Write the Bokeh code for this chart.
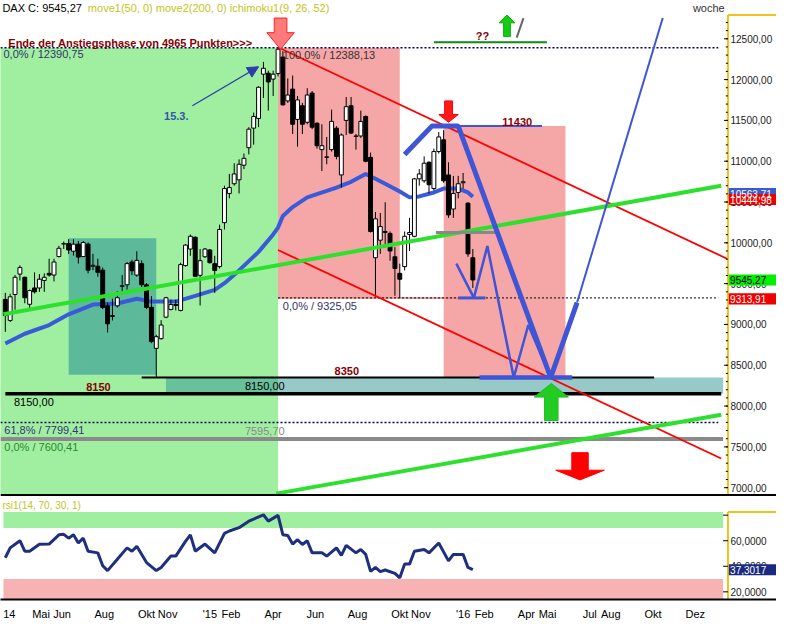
import numpy as np
from bokeh.plotting import figure
from bokeh.layouts import column
from bokeh.models import Range1d, FixedTicker, Label, Span, Arrow, NormalHead
from bokeh.core.properties import value
from bokeh.embed import file_html
from bokeh.resources import INLINE

# ---------------- data ----------------
first_week = -42   # first weekly candle, in weeks relative to the first week of 2015

opens = [9307, 9049, 9367, 9617, 9578, 9247, 9447, 9447, 9539, 9626, 9605, 9832, 9984, 9992, 9897, 9984,
         9832, 9984, 9713, 9713, 9665, 9228, 9097, 9228, 9467, 9486, 9765, 9605, 9745, 9486, 9210, 8707,
         8826, 9089, 9184, 9244, 9172, 9721, 9924, 10068, 9602, 9829, 9912, 9745, 9709, 10247, 10605, 10724,
         10772, 10951, 11166, 11405, 11524, 12066, 12078, 12006, 12074, 12276, 11739, 11883, 11512, 11680,
         11477, 11835, 11465, 11142, 11047, 11142, 11405, 10832, 11500, 11680, 11303, 11309, 11548, 11047,
         9817, 10032, 10127, 10115, 9829, 9626, 9709, 10103, 10080, 10784, 10760, 10987, 10665, 11118,
         11262, 10832, 10414, 10617, 10736, 10486, 9817]
highs = [9387, 9375, 9605, 9725, 9586, 9427, 9638, 9617, 9626, 9805, 9805, 9964, 10016, 10044, 10044, 10023,
         10023, 10004, 9865, 9805, 9697, 9268, 9315, 9407, 9605, 9765, 9793, 9897, 9785, 9506, 9348, 8874,
         9053, 9339, 9303, 9303, 9757, 9984, 10103, 10080, 9924, 9936, 9924, 9841, 10223, 10700, 10844, 10975,
         11023, 11094, 11417, 11596, 11918, 12217, 12109, 12109, 12390, 12348, 12014, 12050, 11799, 11715,
         11894, 11859, 11477, 11453, 11297, 11632, 11429, 11340, 11787, 11787, 11333, 11620, 11560, 11106,
         10378, 10366, 10497, 10139, 9948, 9745, 10139, 10306, 10796, 10903, 11059, 10999, 11154, 11357,
         11381, 10987, 10820, 10820, 10856, 10497, 9924]
lows = [8909, 9030, 9180, 9539, 9259, 9168, 9379, 9399, 9399, 9586, 9527, 9820, 9924, 9865, 9844, 9745,
        9825, 9626, 9665, 9586, 9188, 8901, 9049, 9208, 9367, 9427, 9605, 9586, 9459, 9188, 8770, 8352,
        8814, 9077, 9172, 9172, 9160, 9709, 9841, 9580, 9232, 9817, 9745, 9387, 9685, 10163, 10545, 10700,
        10605, 10903, 11083, 11202, 11417, 11775, 11620, 11799, 12038, 11680, 11715, 11333, 11178, 11333,
        11453, 11393, 11154, 10880, 10963, 11118, 11023, 10677, 11321, 11333, 11142, 11285, 10987, 10127,
        9338, 9865, 9948, 9781, 9351, 9325, 9662, 9900, 10068, 10700, 10736, 10605, 10641, 11094,
        10736, 10306, 10306, 10545, 10665, 9829, 9447]
closes = [9109, 9339, 9578, 9697, 9327, 9415, 9399, 9554, 9578, 9605, 9765, 9933, 9992, 9912, 9984, 9825,
          10004, 9665, 9725, 9638, 9208, 9008, 9109, 9327, 9474, 9745, 9658, 9785, 9486, 9208, 8790, 8850,
          8993, 9327, 9244, 9232, 9733, 9972, 10080, 9590, 9781, 9924, 9757, 9662, 10163, 10665, 10677, 10844,
          10963, 11035, 11393, 11548, 11906, 12138, 11971, 12066, 12372, 11691, 11811, 11453, 11751, 11453,
          11811, 11417, 11190, 11190, 11053, 11488, 11059, 11321, 11668, 11345, 11309, 11488, 10999, 10139,
          10294, 10199, 10139, 9900, 9685, 9554, 10080, 10127, 10784, 10844, 10975, 10712, 11118, 11297,
          10760, 10342, 10605, 10724, 10748, 9865, 9545]

ma_weeks = [-42, -38, -33, -29, -24, -19, -15, -12, -7, -3, 1, 3, 6, 10, 13, 14, 15, 17, 20, 26, 29, 32,
            34, 36, 39, 41, 43, 46, 48, 51, 53, 54]
ma_values = [8766, 8886, 8993, 9124, 9244, 9256, 9315, 9280, 9280, 9351, 9423, 9506, 9662, 9889, 10103,
             10187, 10330, 10438, 10557, 10677, 10748, 10844, 10784, 10724, 10629, 10557, 10569, 10617,
             10665, 10665, 10617, 10564]

rsi_weeks = [-42, -41, -39, -38, -37, -35, -33, -31, -30, -29, -28, -27, -26, -25, -23, -22, -21, -19, -17,
             -16, -15, -13, -11, -10, -8, -7, -5, -4, -3, -1, 1, 3, 4, 6, 8, 11, 12, 14, 15, 16, 17, 18,
             19, 20, 21, 23, 24, 26, 27, 28, 30, 31, 32, 33, 34, 35, 36, 38, 39, 40, 41, 42, 44, 45, 47,
             49, 50, 52, 53, 54]
rsi_values = [46.7, 54.4, 60.0, 51.8, 51.8, 57.2, 57.4, 64.6, 65.0, 62.0, 64.6, 58.2, 62.0, 51.8, 50.5,
              40.4, 36.6, 45.5, 54.4, 51.8, 55.6, 42.9, 36.6, 39.1, 48.0, 48.0, 59.5, 64.6, 51.8, 57.4,
              50.5, 65.8, 67.6, 70.2, 75.3, 80.3, 75.3, 79.8, 64.6, 64.0, 57.4, 60.8, 57.0, 60.0, 50.5,
              50.5, 48.0, 54.4, 48.5, 56.4, 50.5, 53.1, 49.3, 36.0, 39.1, 35.8, 37.1, 34.5, 31.0, 41.7,
              41.7, 51.8, 53.1, 50.5, 58.2, 44.2, 49.3, 49.3, 39.1, 37.3]

price_ticks = [7000, 7500, 8000, 8500, 9000, 9500, 10000, 10500, 11000, 11500, 12000, 12500]
price_tick_labels = ["7000,00", "7500,00", "8000,00", "8500,00", "9000,00", "9500,00", "10000,00",
                     "10500,00", "11000,00", "11500,00", "12000,00", "12500,00"]
price_minor_ticks = list(range(6900, 12800, 100))
rsi_ticks = [20, 40, 60]
rsi_tick_labels = ["20,0000", "40,0000", "60,0000"]
rsi_minor_ticks = [80]
month_ticks = [-9.5, -8, -7, -5, -3, -2, 0, 1, 3, 5, 7, 9, 10, 12, 13, 15, 16, 18, 19, 21, 23]
month_tick_labels = ["14", "Mai", "Jun", "Aug", "Okt", "Nov", "'15", "Feb", "Apr", "Jun", "Aug", "Okt",
                     "Nov", "'16", "Feb", "Apr", "Mai", "Jul", "Aug", "Okt", "Dez"]

fib_top = 12390.75
fib_peak = 12388.13
fib_bottom = 9325.05
fib_618 = 7799.41
fib_zero = 7600.41
grey_level = 7595.70
support_low = 8150.0
support_high = 8350.0
target_high = 11430.0
last_close = 9545.27
last_ma = 10563.71
red_mark_1 = 10444.98
red_mark_2 = 9313.91
last_rsi = 37.3017

# ---------------- helpers ----------------
FONT = "Liberation Sans"
WEEKS_PER_MONTH = 52.0 / 12.0


def month_of_week(w):
    return np.asarray(w, dtype=float) / WEEKS_PER_MONTH


def fmt(v, d):
    return f"{v:.{d}f}".replace(".", ",")


def add_text(fig, x, y, text, color, size="11px", bold=False, **kw):
    fig.add_layout(Label(x=x, y=y, text=text, text_color=color, text_font=FONT,
                         text_font_size=size, text_font_style="bold" if bold else "normal",
                         text_baseline="middle", text_align="left", **kw))


def arrow_shape(xc, tip, base, tail, head_half, shaft_half):
    xs = [xc, xc + head_half, xc + shaft_half, xc + shaft_half, xc - shaft_half, xc - shaft_half, xc - head_half]
    ys = [tip, base, base, tail, tail, base, base]
    return xs, ys


def price_scale(fig, lo, hi, ticks, labels, minor, tick_len, minor_len):
    """right-hand value scale of the chart program (yellow line, ticks, labels)"""
    fig.line([AX, AX], [lo, hi], line_color="#f2c21b", line_width=2)
    fig.line([AX, X1], [hi, hi], line_color="#f2c21b", line_width=2)
    fig.segment(x0=[AX - minor_len] * len(minor), y0=minor, x1=[AX] * len(minor), y1=minor,
                line_color="black", line_width=1)
    fig.segment(x0=[AX - tick_len] * len(ticks), y0=ticks, x1=[AX] * len(ticks), y1=ticks,
                line_color="black", line_width=1)
    fig.text(x=[AX + 0.12] * len(ticks), y=ticks, text=labels, text_font=value(FONT),
             text_font_size=value("10px"), text_color="#222222", text_baseline="middle",
             text_align="left")


def value_boxes(fig, centers, texts, fills, colors, half):
    n = len(centers)
    fig.quad(left=[AX + 0.04] * n, right=[X1 + 1] * n, bottom=[c - half for c in centers],
             top=[c + half for c in centers], fill_color=fills, line_color=None)
    fig.text(x=[AX + 0.1] * n, y=centers, text=texts, text_font=value(FONT), text_font_size=value("10px"),
             text_color=colors, text_baseline="middle", text_align="left")


X0, X1 = -9.92, 26.85
AX = 24.55          # position of the value scale line
FW = 776

# ---------------- main price panel ----------------
p = figure(frame_width=FW, frame_height=496, x_range=Range1d(X0, X1), y_range=Range1d(6892, 12969),
           x_axis_location=None, y_axis_location=None, output_backend="svg",
           toolbar_location=None, min_border=0)
p.grid.visible = False
p.outline_line_color = None

# zones
p.quad(left=[-10.5], right=[3.23], bottom=[6800], top=[fib_top], fill_color="#a0efa0", line_color=None)
p.quad(left=[3.23, 11.08], right=[9.0, 16.85], bottom=[fib_bottom, support_high],
       top=[fib_peak, target_high], fill_color="#f5a6a6", line_color=None)
p.quad(left=[-6.69], right=[-2.54], bottom=[8384], top=[10056], fill_color="#2f9494", fill_alpha=0.6,
       line_color=None)
p.quad(left=[-2.08], right=[24.32], bottom=[support_low], top=[support_high], fill_color="#2f9494",
       fill_alpha=0.5, line_color=None)

# horizontal levels
p.line([X0, 24.09], [fib_top, fib_top], line_color="#000050", line_dash="2 2", line_width=1.5)
p.line([3.23, 11.77], [fib_bottom, fib_bottom], line_color="#f08080", line_width=1.5)
p.line([3.23, 24.09], [fib_bottom, fib_bottom], line_color="#000000", line_dash="2 2", line_width=1)
p.line([X0, 24.09], [fib_618, fib_618], line_color="#000050", line_dash="2 2", line_width=1.5)
p.line([X0, 24.32], [grey_level, grey_level], line_color="#8a8a8a", line_width=4)
p.line([-9.69, 24.23], [support_low, support_low], line_color="black", line_width=3.5)
p.line([-3.23, 21.05], [support_high, support_high], line_color="black", line_width=2)

# moving average
p.line(month_of_week(ma_weeks), ma_values, line_color="#3a5bd9", line_width=4)

# candles
xs = month_of_week(np.arange(len(opens)) + first_week)
o = np.array(opens, dtype=float)
c = np.array(closes, dtype=float)
up = c >= o
bw = 0.8 / WEEKS_PER_MONTH
p.segment(xs, highs, xs, lows, line_color="black", line_width=1)
p.vbar(x=xs[up], width=bw, bottom=o[up], top=c[up], fill_color="white", line_color="black", line_width=1)
p.vbar(x=xs[~up], width=bw, bottom=c[~up], top=o[~up], fill_color="black", line_color="black", line_width=1)

# trend lines
p.line([3.23, 24.51], [12396, 9805], line_color="#ff0000", line_width=1.8)
p.line([3.23, 24.23], [9912, 7357], line_color="#ff0000", line_width=1.8)
p.line([-9.78, 24.23], [9124, 10700], line_color="#2ee02e", line_width=4)
p.line([3.14, 24.23], [6927, 7894], line_color="#2ee02e", line_width=4)
p.line([10.62, 15.97], [12456, 12456], line_color="#118811", line_width=2)
p.line([14.54, 14.86], [12515, 12754], line_color="#666666", line_width=2)
p.line([10.71, 13.52], [10127, 10127], line_color="#888888", line_width=3)

# blue scenario drawing
p.line([9.23, 10.52, 11.77, 16.15, 17.40], [11083, target_high, target_high, support_high, 9268],
       line_color="#3f55d6", line_width=5)
p.line([17.40, 21.46], [9268, 12754], line_color="#3f55d6", line_width=2)
p.line([10.52, 15.74], [target_high, target_high], line_color="#3f55d6", line_width=2)
p.line([11.68, 12.51, 13.15, 14.40, 15.09, 16.15], [9745, fib_bottom, 9960, support_high, 8993, support_high],
       line_color="#3f55d6", line_width=2.5)
p.line([11.77, 13.06], [fib_bottom, fib_bottom], line_color="#3f55d6", line_width=3)
p.line([12.78, 17.17], [support_high, support_high], line_color="#3f55d6", line_width=4.5)
p.add_layout(Arrow(end=NormalHead(size=11, fill_color="#2a3fa8", line_color="#2a3fa8"),
                   x_start=-0.83, y_start=11680, x_end=2.31, y_end=12157,
                   line_color="#2a3fa8", line_width=1.2))

# arrows
shapes = [arrow_shape(3.35, 12372, 12575, 12754, 0.65, 0.30),
          arrow_shape(11.31, 11477, 11572, 11739, 0.46, 0.185),
          arrow_shape(14.08, 12790, 12695, 12527, 0.37, 0.16),
          arrow_shape(16.18, 8277, 8110, 7823, 0.81, 0.32),
          arrow_shape(17.54, 7095, 7214, 7429, 1.15, 0.39)]
p.patches([s[0] for s in shapes], [s[1] for s in shapes],
          fill_color=["#ff7a7a", "#ff1a1a", "#11cc11", "#22cc22", "#ff0000"],
          line_color=["#ff2020", "#ff0000", "#11aa11", "#22bb22", "#ff0000"], line_width=1)

# value scale and last-value boxes
price_scale(p, 6892, 12790, price_ticks, price_tick_labels, price_minor_ticks, 0.19, 0.1)
value_boxes(p, [last_ma + 40, red_mark_1 + 85, last_close, red_mark_2],
            [fmt(last_ma, 2), fmt(red_mark_1, 2), fmt(last_close, 2), fmt(red_mark_2, 2)],
            ["#3a5bd0", "#ee0000", "#00ee00", "#ee0000"], ["white", "white", "black", "white"], 68)

p.add_layout(Span(location=6903, dimension="width", line_color="black", line_width=3))

# texts
add_text(p, -9.83, 12873, "DAX C: " + fmt(last_close, 2), "#000000")
add_text(p, -5.78, 12873, "move1(50, 0) move2(200, 0) ichimoku1(9, 26, 52)", "#c4c41c")
add_text(p, 22.89, 12873, "woche", "#333333")
add_text(p, -9.55, 12450, "Ende der Anstiegsphase von 4965 Punkten>>>", "#880000", bold=True)
add_text(p, -9.78, 12312, "0,0% / " + fmt(fib_top, 2), "#33336b")
add_text(p, 3.46, 12300, "100,0% / " + fmt(fib_peak, 2), "#333333")
add_text(p, 12.60, 12539, "??", "#880000", bold=True)
add_text(p, -2.17, 11560, "15.3.", "#3355aa", bold=True)
add_text(p, 13.85, 11477, fmt(target_high, 0), "#880000", bold=True)
add_text(p, 3.46, 9232, "0,0% / " + fmt(fib_bottom, 2), "#333366")
add_text(p, 5.91, 8432, fmt(support_high, 0), "#880000", bold=True)
add_text(p, -5.86, 8229, fmt(support_low, 0), "#880000", bold=True)
add_text(p, 1.66, 8241, fmt(support_low, 2), "#000000")
add_text(p, -9.28, 8050, fmt(support_low, 2), "#000000")
add_text(p, -9.74, 7703, "61,8% / " + fmt(fib_618, 2), "#333377")
add_text(p, 1.66, 7692, fmt(grey_level, 2), "#888888")
add_text(p, -9.74, 7500, "0,0% / " + fmt(fib_zero, 2), "#2b8a2b")

# ---------------- RSI panel ----------------
r = figure(frame_width=FW, frame_height=103, x_range=p.x_range, y_range=Range1d(14, 94.6),
           y_axis_location=None, output_backend="svg", toolbar_location=None, min_border=0)
r.grid.visible = False
r.outline_line_color = None
r.quad(left=[-9.78, -9.78], right=[24.32, 24.32], bottom=[70, 14], top=[82.4, 30],
       fill_color=["#a0efa0", "#f7b3b3"], line_color=None)
r.line(month_of_week(rsi_weeks), rsi_values, line_color="#1f2f7f", line_width=3)
add_text(r, -9.83, 87.7, "rsi1(14, 70, 30, 1)", "#c4c41c", size="10px")
price_scale(r, 14, 82.4, rsi_ticks, rsi_tick_labels, rsi_minor_ticks, 0.23, 0.23)
value_boxes(r, [last_rsi], [fmt(last_rsi, 4)], ["#1a2a80"], ["white"], 4.3)

rx = r.xaxis[0]
rx.ticker = FixedTicker(ticks=month_ticks)
rx.major_label_overrides = dict(zip(month_ticks, month_tick_labels))
rx.axis_line_color = "black"
rx.axis_line_width = 2
rx.major_tick_in = 0
rx.major_tick_out = 0
rx.minor_tick_line_color = None
rx.major_label_text_font = FONT
rx.major_label_text_font_size = "11px"
rx.major_label_text_color = "#000000"
rx.major_label_standoff = 8

layout = column(p, r, spacing=0)
open("out.html", "w").write(file_html(layout, INLINE))
